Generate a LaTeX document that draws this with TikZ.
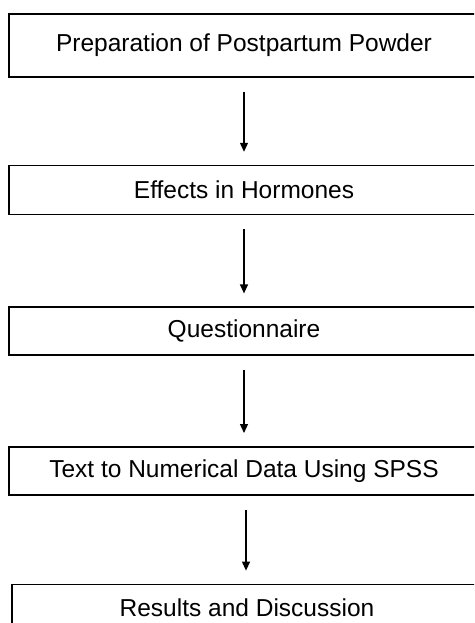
\documentclass[tikz,border=0pt]{standalone}
\usepackage{fontspec}
\setmainfont{Liberation Sans}
\usetikzlibrary{positioning, arrows.meta}

\begin{document}
\begin{tikzpicture}[
        x=1pt, y=1pt,
        box/.style={rectangle, draw, line width=1.6pt, minimum width=470pt,
            inner sep=0pt, font=\fontsize{24.5}{28}\selectfont, align=center},
        arrow/.style={-{Triangle[length=9pt, width=8pt]}, line width=1.2pt,
            shorten <=14pt, shorten >=13pt},
        ]
        \clip (0,0) rectangle (474,-623);

        % Input
        \node[box, minimum height=63pt] (prep) at (244,-45.5)
        {Preparation of Postpartum Powder};

        % Hormones
        \node[box, minimum height=49pt, below=87pt of prep] (horm)
        {Effects in Hormones};
        \draw[arrow] (prep) -- (horm);

        % Questionnaire
        \node[box, minimum height=48pt, below=91pt of horm] (quest)
        {Questionnaire};
        \draw[arrow] (horm) -- (quest);

        % SPSS
        \node[box, minimum height=48pt, below=90pt of quest] (spss)
        {Text to Numerical Data Using SPSS};
        \draw[arrow] (quest) -- (spss);

        % Results
        \node[box, minimum height=46pt, below=88pt of spss, xshift=3pt] (res)
        {Results and Discussion};
        \draw[arrow] ([xshift=2pt]spss.south) -- ([xshift=2pt]spss.south |- res.north);
    \end{tikzpicture}
\end{document}
